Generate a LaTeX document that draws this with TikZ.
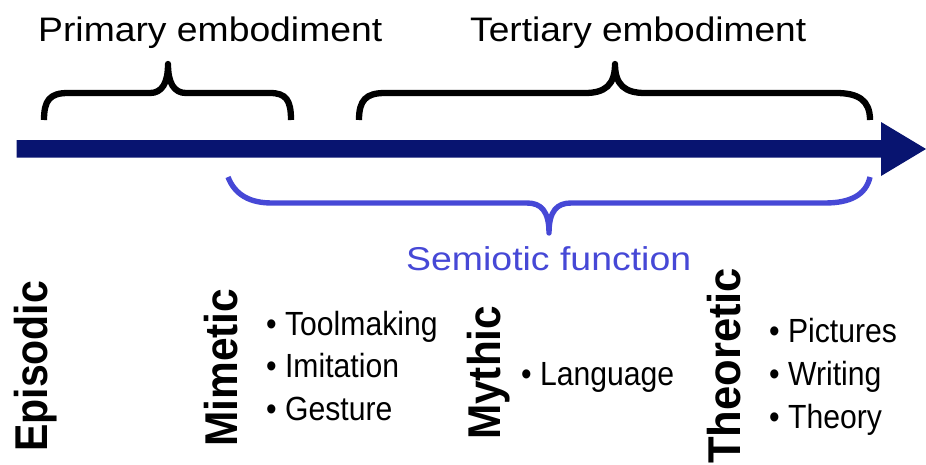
\documentclass[tikz,border=0pt]{standalone}
\usepackage{fontspec}
\setmainfont{Liberation Sans}
\definecolor{navy}{RGB}{8,20,112}
\definecolor{semblue}{RGB}{70,72,214}
\tikzset{
  title/.style={anchor=base west, inner sep=0pt, font=\fontsize{34}{40}\selectfont},
  item/.style={anchor=base west, inner sep=0pt, font=\fontsize{33.5}{40}\selectfont},
  stage/.style={anchor=base west, inner sep=0pt, rotate=90, font=\fontsize{46}{50}\selectfont\bfseries},
  blackbrace/.style={draw=black, line width=6.3pt, line join=round},
  bluebrace/.style={draw=semblue, line width=5.4pt, line join=round},
}
\begin{document}
\begin{tikzpicture}[x=1pt,y=-1pt]
\useasboundingbox (0,0) rectangle (926,464);
% time arrow
\coordinate (tail) at (16.7,148.7);
\coordinate (tip) at (926,149);
\fill[navy] (16.7,140) -- (881,140) -- (881,122) -- (tip) -- (881,176) -- (881,157.5) -- (16.7,157.5) -- cycle;
% braces
\draw[blackbrace] (44,120) .. controls (44,100) and (50,93) .. (68,93) -- (150,93)
  .. controls (162,93) and (168,83) .. (168,64) .. controls (168,83) and (174,93) .. (186,93)
  -- (270,93) .. controls (286,93) and (291,100) .. (291,120);
\draw[blackbrace] (359,120) .. controls (359,100) and (366,93) .. (385,93) -- (585,93)
  .. controls (605,93) and (615,85) .. (615,64) .. controls (615,85) and (625,93) .. (645,93)
  -- (836,93) .. controls (858,93) and (870,100) .. (870,120);
\draw[bluebrace] (228,177) .. controls (235,195) and (250,203) .. (272,203) -- (527,203)
  .. controls (541,203) and (549,211) .. (549,233) .. controls (549,211) and (557,203) .. (571,203)
  -- (825,203) .. controls (850,203) and (866,195) .. (870,177);
% titles
\node[title] (prim) at (38,41) {\resizebox{344pt}{\height}{Primary embodiment}};
\node[title] (tert) at (470,41) {\resizebox{336pt}{\height}{Tertiary embodiment}};
\node[title, text=semblue, font=\fontsize{33}{40}\selectfont] (sem) at (406,270) {\resizebox{285pt}{\height}{Semiotic function}};
% stages
\node[stage] (epi) at (47,452) {\resizebox{171pt}{\height}{Episodic}};
\node[stage] (mim) at (237,447) {\resizebox{158pt}{\height}{Mimetic}};
\node[stage] (myt) at (500,440) {\resizebox{134pt}{\height}{Mythic}};
\node[stage] (the) at (740,464) {\resizebox{196pt}{\height}{Theoretic}};
% bullet items
\node[item] (tool) at (266,335) {\scalebox{0.9}[1]{• Toolmaking}};
\node[item] (imit) at (266,377) {\scalebox{0.9}[1]{• Imitation}};
\node[item] (gest) at (266,420) {\scalebox{0.9}[1]{• Gesture}};
\node[item] (lang) at (521,385) {\scalebox{0.9}[1]{• Language}};
\node[item] (pict) at (769,342) {\scalebox{0.9}[1]{• Pictures}};
\node[item] (writ) at (769,385) {\scalebox{0.9}[1]{• Writing}};
\node[item] (theo) at (769,428) {\scalebox{0.9}[1]{• Theory}};
\end{tikzpicture}
\end{document}
